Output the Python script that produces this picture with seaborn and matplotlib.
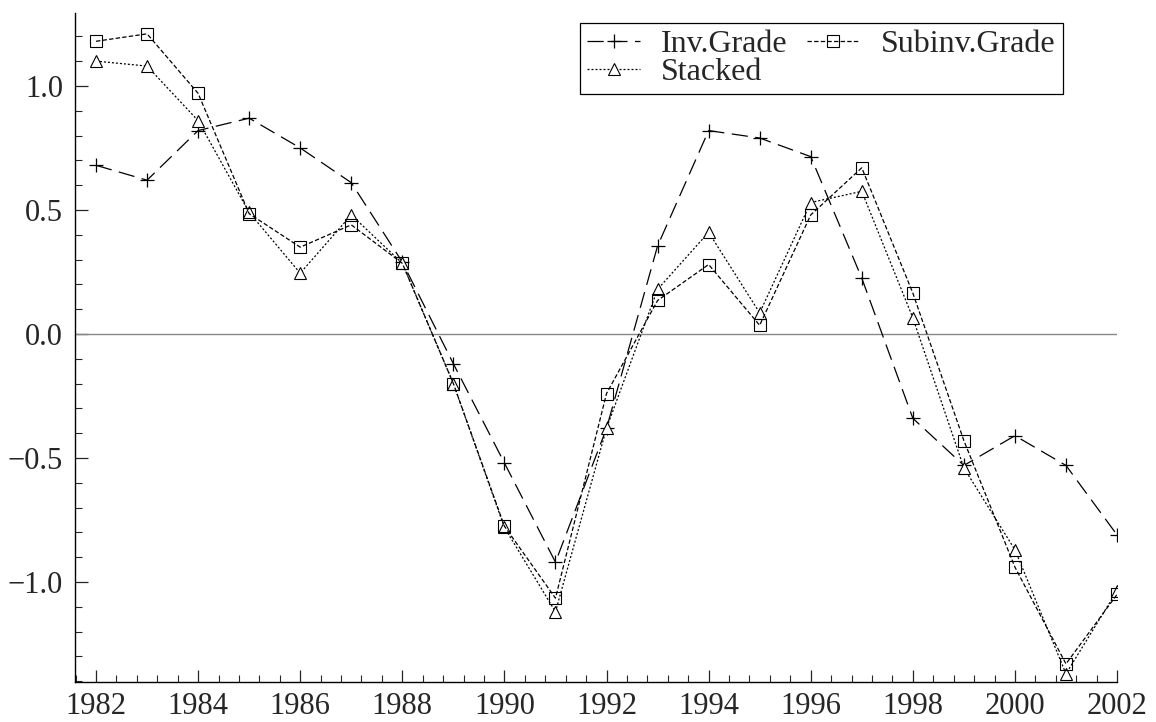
import numpy as np
import pandas as pd
import seaborn as sns
import matplotlib.pyplot as plt
from matplotlib.ticker import MultipleLocator

years = list(range(1982, 2003))
inv_grade = [0.68, 0.62, 0.82, 0.87, 0.75, 0.61, 0.29, -0.12, -0.52, -0.92, -0.38,
             0.355, 0.82, 0.79, 0.715, 0.225, -0.34, -0.53, -0.41, -0.53, -0.81]
subinv_grade = [1.18, 1.21, 0.97, 0.485, 0.35, 0.44, 0.285, -0.20, -0.775, -1.065, -0.24,
                0.135, 0.28, 0.035, 0.48, 0.67, 0.165, -0.43, -0.94, -1.33, -1.05]
stacked = [1.10, 1.08, 0.86, 0.49, 0.245, 0.48, 0.285, -0.20, -0.78, -1.12, -0.38,
           0.18, 0.41, 0.085, 0.53, 0.575, 0.065, -0.54, -0.87, -1.37, -1.035]

sns.set_style("ticks")
plt.rcParams['font.family'] = ['Liberation Serif', 'DejaVu Serif']

fig = plt.figure(figsize=(11.56, 7.22), dpi=100)
ax = fig.add_axes([0.0649, 0.0554, 0.9014, 0.9266])

ax.axhline(0, color='#888888', lw=1.0, zorder=1)

sns.lineplot(x=years, y=inv_grade, ax=ax, color='black', lw=0.9,
             linestyle=(0, (13, 6)), marker='+', markersize=10, mew=0.9,
             mec='black', label='Inv.Grade')
sns.lineplot(x=years, y=stacked, ax=ax, color='black', lw=0.9,
             linestyle=(0, (1.6, 1.6)), marker='^', markersize=8, mew=0.8,
             mfc='white', mec='black', label='Stacked')
sns.lineplot(x=years, y=subinv_grade, ax=ax, color='black', lw=0.9,
             linestyle=(0, (3.5, 1.8)), marker='s', markersize=8, mew=0.8,
             mfc='none', mec='black', label='Subinv.Grade')

ax.set_xlim(1981.589, 2002)
ax.set_ylim(-1.403, 1.294)
ax.xaxis.set_major_locator(MultipleLocator(2))
ax.xaxis.set_minor_locator(MultipleLocator(0.4))
ax.yaxis.set_major_locator(MultipleLocator(0.5))
ax.yaxis.set_minor_locator(MultipleLocator(0.1))
ax.yaxis.set_major_formatter(plt.FuncFormatter(lambda v, p: f"{v:.1f}".replace('-', '\u2212')))
ax.tick_params(which='major', direction='in', length=9, width=0.9, labelsize=22)
ax.tick_params(axis='x', which='major', pad=7)
ax.tick_params(axis='y', which='major', pad=8.5)
ax.tick_params(which='minor', direction='in', length=5, width=0.8)
for s in ['top', 'right']:
    ax.spines[s].set_visible(False)
for s in ['left', 'bottom']:
    ax.spines[s].set_linewidth(1.0)
    ax.spines[s].set_color('black')

leg = ax.legend(loc='upper right', bbox_to_anchor=(0.948, 0.985), ncol=2,
                fontsize=23, frameon=True, fancybox=False, handlelength=1.65,
                handletextpad=0.67, columnspacing=0.6, labelspacing=-0.05,
                borderpad=0.22, borderaxespad=0)
leg.get_frame().set_edgecolor('black')
leg.get_frame().set_linewidth(0.9)
leg.get_frame().set_alpha(1)

fig.savefig('out.png', dpi=100)
